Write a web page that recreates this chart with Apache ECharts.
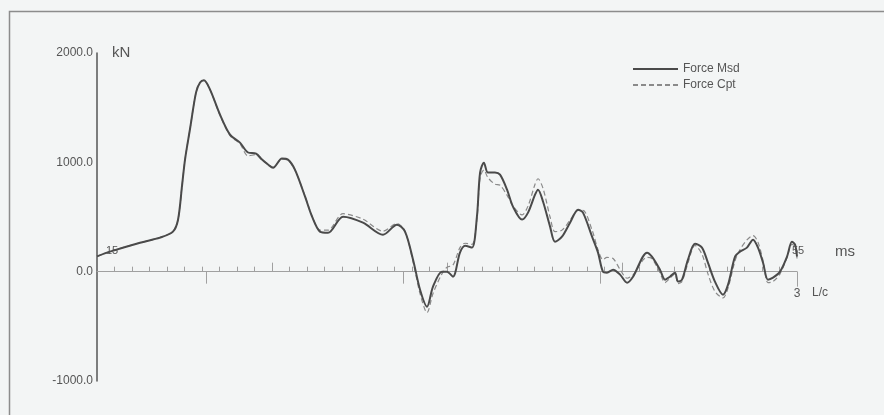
<!DOCTYPE html>
<html>
<head>
<meta charset="utf-8">
<script src="https://cdn.jsdelivr.net/npm/echarts@6/dist/echarts.min.js"></script>
<style>
  html, body { margin: 0; padding: 0; background: #f3f5f5; }
  #chart { width: 884px; height: 415px; }
</style>
</head>
<body>
<div id="chart"></div>
<script>
// Pile top force record: measured vs computed force over time (ms)
const timeMs = [
  15.00, 15.74, 17.46, 18.60, 19.34, 19.63, 19.86, 20.03, 20.31, 20.66,
  20.89, 21.11, 21.46, 22.03, 22.60, 23.17, 23.63, 24.09, 24.43, 24.77,
  25.06, 25.57, 25.91, 26.31, 26.89, 27.29, 27.74, 28.20, 29.06, 30.20,
  31.34, 32.14, 32.60, 33.06, 33.46, 33.86, 34.20, 34.71, 35.00, 35.34,
  35.74, 36.03, 36.43, 36.71, 36.89, 37.11, 37.34, 37.74, 38.03, 38.43,
  38.77, 39.29, 39.63, 40.03, 40.20, 40.49, 40.89, 41.17, 41.57, 42.03,
  42.49, 42.77, 43.29, 43.63, 43.91, 44.14, 44.49, 44.89, 45.29, 45.63,
  46.43, 46.71, 47.17, 47.46, 47.74, 48.03, 48.20, 48.43, 48.77, 49.17,
  49.57, 49.91, 50.31, 50.77, 51.06, 51.46, 51.74, 52.14, 52.49, 52.77,
  53.06, 53.34, 53.63, 54.03, 54.43, 54.71, 54.89, 55.00
];

const forceMsd = [
  140, 183, 265, 311, 366, 475, 787, 1025, 1300, 1640,
  1730, 1750, 1665, 1436, 1253, 1180, 1090, 1080, 1025, 980,
  950, 1034, 1025, 933, 686, 503, 366, 355, 503, 448,
  338, 430, 366, 110, -165, -320, -137, 0, 0, -46,
  174, 238, 220, 503, 906, 997, 906, 906, 887, 750,
  595, 476, 540, 704, 750, 640, 412, 274, 320, 448,
  567, 540, 320, 174, 0, -9, 18, -27, -101, -46,
  174, 137, 18, -73, -46, -9, -91, -73, 110, 256,
  220, 82, -91, -210, -119, 137, 183, 220, 293, 220,
  82, -73, -55, 0, 137, 274, 247, 137
];

const forceCpt = [
  140, 183, 265, 311, 366, 475, 787, 1025, 1300, 1640,
  1730, 1750, 1665, 1430, 1245, 1170, 1060, 1070, 1020, 985,
  955, 1030, 1020, 930, 690, 510, 380, 380, 530, 480,
  370, 440, 370, 90, -200, -375, -200, -20, 40, 60,
  220, 260, 250, 480, 860, 930, 860, 800, 790, 700,
  600, 520, 600, 800, 850, 760, 500, 366, 380, 470,
  560, 560, 380, 200, 110, 130, 120, 20, -60, -30,
  130, 120, -10, -100, -60, -20, -110, -90, 80, 240,
  160, -20, -180, -240, -150, 100, 200, 290, 330, 270,
  100, -100, -90, -20, 130, 250, 230, 120
];

const timeRangeMs = [15, 55];
const forceRange = [-1000, 2000];
const forceStep = 1000;
const decadeTicksMs = [25, 35, 45];
const lcStartMs = 21.23;      // time of 0 L/c
const lcTicks = [0, 1, 2];
const lcEndTick = [3];        // record ends at 3 L/c

const msTicks = [];
for (let t = timeRangeMs[0] + 1; t < timeRangeMs[1]; t++) msTicks.push(t);

// L/c scale spanning the same time window as the ms scale
const lcPeriodMs = (timeRangeMs[1] - lcStartMs) / lcEndTick[0];
const lcRange = [(timeRangeMs[0] - lcStartMs) / lcPeriodMs, lcEndTick[0]];

const ink = '#555';
const axisGray = '#a0a0a0';
const font = 'Liberation Sans, Arial, sans-serif';

// plot area; the time axes sit on the zero-force line, which is the bottom of the second grid
const plot = { left: 97, right: 87, top: 53, bottom: 34 };
const zeroFrac = forceRange[1] / (forceRange[1] - forceRange[0]);
const plotH = 415 - plot.top - plot.bottom;
const zeroGridBottom = 415 - (plot.top + plotH * zeroFrac);

const chart = echarts.init(document.getElementById('chart'), null, { renderer: 'canvas' });

const timeAxisBase = {
  type: 'value',
  gridIndex: 1,
  position: 'bottom',
  splitLine: { show: false },
  axisLine: { show: false, onZero: false },
  axisLabel: { show: false }
};

chart.setOption({
  animation: false,
  backgroundColor: '#f3f5f5',
  textStyle: { fontFamily: font },
  graphic: [{
    type: 'rect',
    silent: true,
    shape: { x: 9.5, y: 11.5, width: 900, height: 420 },
    style: { fill: 'none', stroke: '#8c8c8c', lineWidth: 1.5 }
  }],
  legend: {
    data: ['Force Msd', 'Force Cpt'],
    orient: 'vertical',
    left: 627,
    top: 58,
    itemWidth: 45,
    itemHeight: 10,
    itemGap: 4,
    itemStyle: { opacity: 0, color: 'rgba(0,0,0,0)', borderWidth: 0 },
    textStyle: { fontSize: 12, color: ink, fontFamily: font }
  },
  grid: [
    Object.assign({}, plot),
    { left: plot.left, right: plot.right, top: plot.top, bottom: zeroGridBottom }
  ],
  yAxis: [
    {
      type: 'value',
      gridIndex: 0,
      min: forceRange[0],
      max: forceRange[1],
      interval: forceStep,
      name: 'kN',
      nameLocation: 'end',
      nameGap: 0,
      nameTextStyle: { fontSize: 15, color: ink, align: 'left', verticalAlign: 'middle', padding: [0, 0, 0, 15], fontFamily: font },
      axisLine: { show: true, onZero: false, lineStyle: { color: '#555', width: 1.5 } },
      axisTick: { show: false },
      splitLine: { show: false },
      axisLabel: { margin: 4, fontSize: 12, color: ink, fontFamily: font, formatter: v => v.toFixed(1) }
    },
    {
      type: 'value',
      gridIndex: 1,
      min: 0,
      max: forceRange[1],
      show: false
    }
  ],
  xAxis: [
    {
      // time scale for the force curves
      type: 'value',
      gridIndex: 0,
      min: timeRangeMs[0],
      max: timeRangeMs[1],
      show: false
    },
    Object.assign({}, timeAxisBase, {
      // ms axis on the zero line: 1 ms ticks and end labels
      min: timeRangeMs[0],
      max: timeRangeMs[1],
      axisLine: { show: true, onZero: false, lineStyle: { color: axisGray, width: 1 } },
      axisTick: { show: true, inside: true, length: 5, customValues: msTicks, lineStyle: { color: axisGray } },
      axisLabel: {
        show: true, inside: true, margin: 15, customValues: timeRangeMs,
        showMinLabel: true, showMaxLabel: true,
        fontSize: 11, color: ink, fontFamily: font,
        formatter: v => v === timeRangeMs[0] ? '{s|' + v + '}' : '{e|' + v + '}',
        rich: { s: { padding: [0, 0, 0, 30], fontSize: 11, color: ink }, e: { padding: [0, 0, 0, 2], fontSize: 11, color: ink } }
      },
      name: 'ms',
      nameLocation: 'end',
      nameGap: 38,
      nameTextStyle: { fontSize: 15, color: ink, verticalAlign: 'bottom', padding: [0, 0, 12, 0], fontFamily: font }
    }),
    Object.assign({}, timeAxisBase, {
      // 10 ms ticks
      min: timeRangeMs[0],
      max: timeRangeMs[1],
      axisTick: { show: true, inside: true, length: 9, customValues: decadeTicksMs, lineStyle: { color: axisGray } }
    }),
    Object.assign({}, timeAxisBase, {
      // L/c ticks
      min: lcRange[0],
      max: lcRange[1],
      axisTick: { show: true, inside: false, length: 12, customValues: lcTicks, lineStyle: { color: axisGray } }
    }),
    Object.assign({}, timeAxisBase, {
      // final L/c tick with its label
      min: lcRange[0],
      max: lcRange[1],
      axisTick: { show: true, inside: false, length: 15, customValues: lcEndTick, lineStyle: { color: axisGray } },
      axisLabel: {
        show: true, margin: 16, customValues: lcEndTick, showMinLabel: true, showMaxLabel: true,
        fontSize: 12, color: ink, fontFamily: font, formatter: v => String(Math.round(v))
      },
      name: 'L/c',
      nameLocation: 'end',
      nameGap: 15,
      nameTextStyle: { fontSize: 12, color: ink, verticalAlign: 'top', padding: [15, 0, 0, 0], fontFamily: font }
    })
  ],
  series: [
    {
      name: 'Force Cpt',
      type: 'line',
      xAxisIndex: 0,
      yAxisIndex: 0,
      symbol: 'none',
      smooth: 0.3,
      z: 2,
      lineStyle: { color: '#8a8a8a', width: 1.2, type: [5, 3] },
      itemStyle: { color: '#8a8a8a' },
      data: timeMs.map((t, i) => [t, forceCpt[i]])
    },
    {
      name: 'Force Msd',
      type: 'line',
      xAxisIndex: 0,
      yAxisIndex: 0,
      symbol: 'none',
      smooth: 0.3,
      z: 3,
      lineStyle: { color: '#4a4a4a', width: 2 },
      itemStyle: { color: '#4a4a4a' },
      data: timeMs.map((t, i) => [t, forceMsd[i]])
    }
  ]
});
</script>
</body>
</html>
